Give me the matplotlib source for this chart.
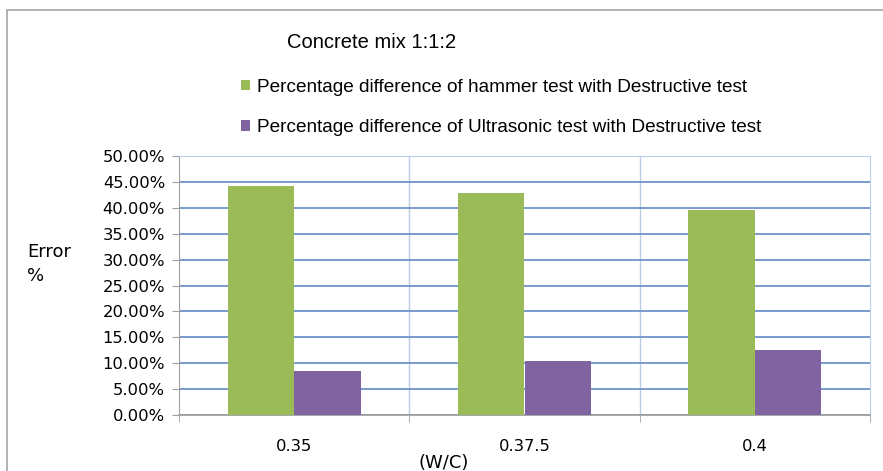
import matplotlib

matplotlib.use("Agg")
import matplotlib.pyplot as plt
import numpy as np
from matplotlib.ticker import FuncFormatter, MultipleLocator
from matplotlib.patches import Rectangle

# ---------------------------------------------------------------------------
# data
# ---------------------------------------------------------------------------
categories = ["0.35", "0.37.5", "0.4"]
hammer = [44.2, 42.9, 39.6]
ultrasonic = [8.5, 10.4, 12.5]
series_labels = [
    "Percentage difference of hammer test with Destructive test",
    "Percentage difference of Ultrasonic test with Destructive test",
]
title = "Concrete mix 1:1:2"

GREEN = "#9BBB59"
PURPLE = "#8064A2"
GRID = "#6F93C9"
VGRID = "#B9CDEA"

plt.rcParams["font.family"] = ["Liberation Sans", "DejaVu Sans"]
AXFONT = "DejaVu Sans"

fig = plt.figure(figsize=(8.83, 4.71), dpi=100)
ax = fig.add_axes([179 / 883, 1 - 415 / 471, (870 - 179) / 883, (415 - 156) / 471])

x = np.arange(len(categories))
w = 0.289
ax.bar(x - w / 2, hammer, w, color=GREEN, label=series_labels[0], zorder=3)
ax.bar(x + w / 2, ultrasonic, w, color=PURPLE, label=series_labels[1], zorder=3)

ax.set_xlim(-0.5, len(categories) - 0.5)
ax.set_ylim(0, 50)
ax.yaxis.set_major_locator(MultipleLocator(5))
ax.yaxis.set_major_formatter(FuncFormatter(lambda v, _: f"{v:.2f}%"))
ax.set_xticks(x)
ax.set_xticklabels(categories, fontfamily=AXFONT, fontsize=11.8)
for t in ax.get_yticklabels():
    t.set_fontfamily(AXFONT)
    t.set_fontsize(11.8)

ax.grid(axis="y", color=GRID, linewidth=1.3, zorder=0)
for b in np.arange(0.5, len(categories) - 0.5):
    ax.axvline(b, color=VGRID, linewidth=1.0, zorder=0)
# category boundary ticks
ax.set_xticks(np.arange(-0.5, len(categories)), minor=True)
ax.tick_params(axis="x", which="minor", length=5, color="#A0A0A0")
ax.tick_params(axis="x", which="major", length=0, pad=17)
ax.tick_params(axis="y", length=5, color="#A0A0A0", pad=5)

for s in ["top", "right"]:
    ax.spines[s].set_color(VGRID)
ax.spines["left"].set_color("#A0A0A0")
ax.spines["bottom"].set_color("#A0A0A0")
ax.spines["bottom"].set_linewidth(1.3)

fig.text(444 / 883, 1 - 463 / 471, "(W/C)", fontsize=13, fontfamily=AXFONT,
         ha="center", va="center")
fig.text(27 / 883, 1 - 252 / 471, "Error", fontsize=13, fontfamily=AXFONT,
         ha="left", va="center")
fig.text(27 / 883, 1 - 276 / 471, "%", fontsize=13, fontfamily=AXFONT,
         ha="left", va="center")

fig.text(287 / 883, 1 - 43 / 471, title, fontsize=14.5, ha="left", va="center")
leg = fig.legend(loc="upper left", bbox_to_anchor=(241 / 883, 1 - 79 / 471),
                 frameon=False, fontsize=13.7, handlelength=0.45, handleheight=0.45,
                 handletextpad=0.4, labelspacing=1.22, borderaxespad=0,
                 borderpad=0)

# outer chart-area border
fig.patches.append(Rectangle((7 / 883, -0.01), 1.0, 1 - 10 / 471 + 0.01,
                             transform=fig.transFigure, fill=False,
                             edgecolor="#A6A6A6", linewidth=1.2))

fig.savefig("out.png", dpi=100)
